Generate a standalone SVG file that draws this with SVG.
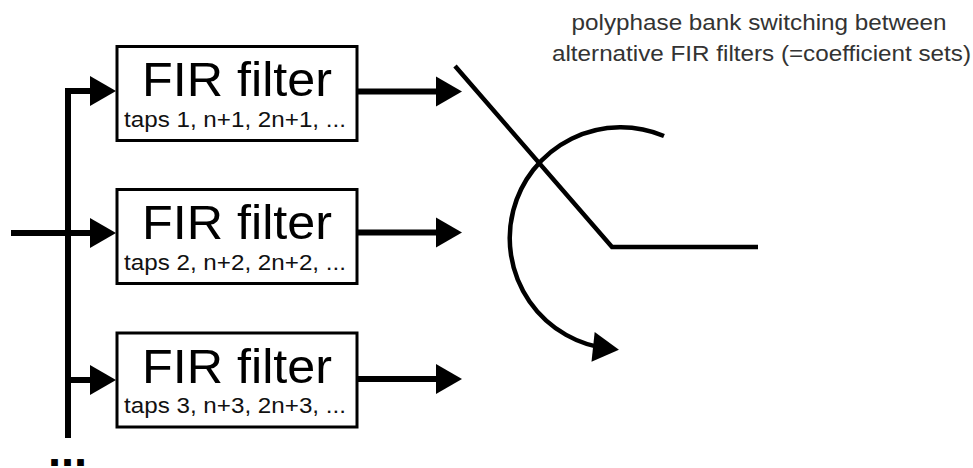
<svg xmlns="http://www.w3.org/2000/svg" width="973" height="468" viewBox="0 0 973 468">
<style>
.box{fill:#fff;stroke:#000;stroke-width:3}
.big{font-family:"Liberation Sans",Arial,sans-serif;font-size:48px;fill:#000;text-anchor:middle}
.small{font-family:"Liberation Sans",Arial,sans-serif;font-size:22px;fill:#111;text-anchor:middle}
.title{font-family:"Liberation Sans",Arial,sans-serif;font-size:22px;fill:#333;text-anchor:middle}
.wire{fill:none;stroke:#000;stroke-width:6;stroke-linejoin:miter}
.sw{fill:none;stroke:#000;stroke-width:4.5;stroke-linejoin:miter}
</style>
<defs>
<marker id="ah" markerUnits="userSpaceOnUse" markerWidth="26" markerHeight="30" refX="16" refY="15" orient="auto" overflow="visible">
<path d="M0,0 L26,15 L0,30 Z" fill="#000"/>
</marker>
</defs>
<rect width="973" height="468" fill="#fff"/>
<g id="connectors">
<path class="wire" d="M11 233 H106" marker-end="url(#ah)"/>
<path class="wire" d="M68 438 V91 H106" marker-end="url(#ah)"/>
<path class="wire" d="M68 380 H106" marker-end="url(#ah)"/>
<path class="wire" d="M358 91.5 H452" marker-end="url(#ah)"/>
<path class="wire" d="M358 232.5 H452" marker-end="url(#ah)"/>
<path class="wire" d="M358 379 H452" marker-end="url(#ah)"/>
</g>
<g id="filter1">
<rect class="box" x="117" y="46.5" width="240" height="94"/>
<text class="big" x="237" y="96" textLength="190" lengthAdjust="spacingAndGlyphs">FIR filter</text>
<text class="small" x="235" y="126.5" textLength="222" lengthAdjust="spacingAndGlyphs">taps 1, n+1, 2n+1, ...</text>
</g>
<g id="filter2">
<rect class="box" x="117" y="189.5" width="240" height="94"/>
<text class="big" x="237" y="239" textLength="190" lengthAdjust="spacingAndGlyphs">FIR filter</text>
<text class="small" x="235" y="269.5" textLength="222" lengthAdjust="spacingAndGlyphs">taps 2, n+2, 2n+2, ...</text>
</g>
<g id="filter3">
<rect class="box" x="117" y="333" width="240" height="94"/>
<text class="big" x="237" y="382.5" textLength="190" lengthAdjust="spacingAndGlyphs">FIR filter</text>
<text class="small" x="235" y="413" textLength="222" lengthAdjust="spacingAndGlyphs">taps 3, n+3, 2n+3, ...</text>
</g>
<g id="switch">
<path class="sw" d="M455 66 L612 247 H758"/>
<path class="sw" d="M664 136 A111 111 0 1 0 609 348.6" marker-end="url(#ah)"/>
</g>
<g id="caption">
<text class="title" x="759" y="29.5" textLength="375" lengthAdjust="spacingAndGlyphs">polyphase bank switching between</text>
<text class="title" x="761.5" y="60.5" textLength="419" lengthAdjust="spacingAndGlyphs">alternative FIR filters (=coefficient sets)</text>
</g>
<g id="more">
<text x="48" y="466" font-family="Liberation Sans, Arial, sans-serif" font-size="47" font-weight="bold" fill="#000">...</text>
</g>
</svg>
